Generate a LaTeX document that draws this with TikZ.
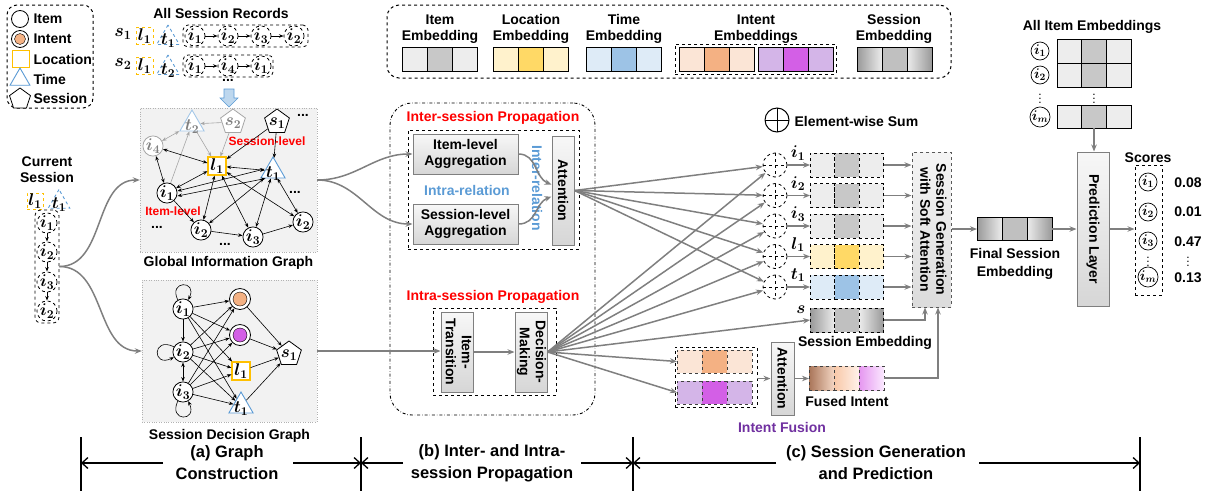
\RequirePackage{fix-cm}
\documentclass[tikz,border=0pt]{standalone}
\usepackage{fontspec}
\setmainfont{Liberation Sans}
\setsansfont{Liberation Sans}
\usetikzlibrary{shapes.geometric,arrows.meta,calc}
\definecolor{cgray}{HTML}{7F7F7F}
\definecolor{itL}{HTML}{EDEDED}
\definecolor{itM}{HTML}{C8C8C8}
\definecolor{loL}{HTML}{FFF2CC}
\definecolor{loM}{HTML}{FFD966}
\definecolor{tiL}{HTML}{DEEBF7}
\definecolor{tiM}{HTML}{9DC3E6}
\definecolor{inoL}{HTML}{FBE5D6}
\definecolor{inoM}{HTML}{F4B183}
\definecolor{inpL}{HTML}{D4B5E8}
\definecolor{inpM}{HTML}{D35FE6}
\definecolor{locB}{HTML}{FFC000}
\definecolor{timB}{HTML}{5B9BD5}
\definecolor{redT}{HTML}{FF0000}
\definecolor{bluT}{HTML}{5B9BD5}
\definecolor{purT}{HTML}{7030A0}
\definecolor{gfill}{HTML}{F2F2F2}
\definecolor{arrB}{HTML}{BDD7EE}
\definecolor{sesM}{HTML}{C0C0C0}
\definecolor{fiA1}{HTML}{A97559}
\definecolor{fiA2}{HTML}{F3D5C2}
\definecolor{fiB1}{HTML}{F8C8A8}
\definecolor{fiB2}{HTML}{FFF2EA}
\definecolor{fiC1}{HTML}{E596F0}
\definecolor{fiC2}{HTML}{FBE9FF}
\newcommand{\mt}[1]{\mbox{\boldmath$#1$}}
\newcommand{\rlines}[1]{\rotatebox{-90}{\begin{tabular}{@{}c@{}}#1\end{tabular}}}
\newcommand{\trio}[6]{%
  \node[ecell,#6,#3] (#1a) at #2 {};
  \node[ecell,#6,#4,anchor=west] (#1b) at (#1a.east) {};
  \node[ecell,#6,#5,anchor=west] (#1c) at (#1b.east) {};}
\begin{document}
\begin{tikzpicture}[x=1pt,y=-1pt,font=\bfseries\fontsize{14}{16}\selectfont]
\useasboundingbox (0,0) rectangle (1212,491);
\tikzset{
 ecell/.style={draw,inner sep=0pt,outer sep=0pt,minimum width=25pt,minimum height=24pt,line width=0.8pt},
 dc/.style={dashed},
 gdc/.style={dashed,draw=black!75},
 sesA/.style={left color=gray!80,right color=gray!15},
 sesC/.style={left color=gray!15,right color=gray!80},
 fiA/.style={left color=fiA1,right color=fiA2},
 fiB/.style={left color=fiB1,right color=fiB2},
 fiC/.style={left color=fiC1,right color=fiC2},
 garrow/.style={draw=cgray,line width=1.5pt,-{Stealth[length=7pt,width=5.5pt]}},
 karrow/.style={line width=0.6pt,-{Stealth[length=4.5pt,width=3.5pt]}},
 kboth/.style={line width=0.6pt,{Stealth[length=4.5pt,width=3.5pt]}-{Stealth[length=4.5pt,width=3.5pt]}},
 mfont/.style={font=\fontsize{17}{19}\selectfont},
 gn/.style={circle,draw,minimum size=20pt,inner sep=0pt,line width=0.8pt,fill=white,mfont},
 dn/.style={gn,dashed,minimum size=18pt},
 locn/.style={draw=locB,line width=1.2pt,minimum size=18pt,inner sep=0pt,fill=white,mfont},
 timn/.style={regular polygon,regular polygon sides=3,draw=timB,line width=0.9pt,minimum size=28pt,inner sep=0pt,fill=white,label={[yshift=-2.5pt,mfont]center:#1}},
 timn/.default={},
 sesn/.style={regular polygon,regular polygon sides=5,draw,line width=0.8pt,minimum size=26pt,inner sep=0pt,fill=white,label={[yshift=-1pt,mfont]center:#1}},
 sesn/.default={},
 gbox/.style={draw=cgray,line width=1pt,top color=gray!6,bottom color=gray!32,inner sep=0pt,align=center},
 sumc/.style={circle,draw,dashed,minimum size=24pt,inner sep=0pt,line width=0.8pt,
   path picture={\draw[dashed] (path picture bounding box.north) -- (path picture bounding box.south) (path picture bounding box.west) -- (path picture bounding box.east);}},
 cl/.style={circle,draw,inner sep=0pt,minimum size=18pt,line width=0.7pt,font=\fontsize{14}{16}\selectfont},
 vd/.style={inner sep=0pt,font=\fontsize{12}{12}\selectfont},
 redt/.style={text=redT},
 tl/.style={line width=1.3pt,-{Straight Barb[length=6pt,width=11pt,line width=1.3pt]}},
}
% ---------- left legend
\node[draw,dashed,rounded corners=10pt,line width=1pt,minimum width=86pt,minimum height=103pt,inner sep=0pt] (leg) at (50,56.5) {};
\node[circle,draw,minimum size=17pt,inner sep=0pt,line width=0.8pt] (lgi) at (20,19) {};
\node[anchor=west] (lgit) at (30,19) {Item};
\node[circle,draw,minimum size=17pt,inner sep=0pt,line width=0.8pt] (lgn) at (20,39) {};
\node[circle,draw,fill=inoM,minimum size=11pt,inner sep=0pt] (lgnc) at (lgn) {};
\node[anchor=west] (lgnt) at (30,39) {Intent};
\node[locn,minimum size=17pt] (lgl) at (21,59) {};
\node[anchor=west] (lglt) at (30,59) {Location};
\node[timn,minimum size=23pt] (lgt) at (20,79.5) {};
\node[anchor=west] (lgtt) at (30,79) {Time};
\node[sesn,minimum size=22pt] (lgs) at (20,99) {};
\node[anchor=west] (lgst) at (30,98) {Session};
% ---------- all session records
\node (asr) at (221,13) {All Session Records};
\node[font=\fontsize{18}{20}\selectfont] (rs1) at (123,34) {\mt{s_1}};
\node[locn,dashed,line width=0.9pt,minimum size=17pt] (rl1) at (144.5,36) {\mt{l_1}};
\node[timn={\mt{t_1}},dashed,minimum size=26pt] (rt1) at (168,38) {};
\node[draw,dashed,rounded corners=5pt,minimum width=125pt,minimum height=22pt,inner sep=0pt,line width=0.8pt] (rb1) at (245.5,36) {};
\node[dn] (r1a) at (195,36) {\mt{i_1}};
\node[dn] (r1b) at (228,36) {\mt{i_2}};
\node[dn] (r1c) at (261,36) {\mt{i_3}};
\node[dn] (r1d) at (294,36) {\mt{i_2}};
\draw[karrow] (r1a) -- (r1b); \draw[karrow] (r1b) -- (r1c); \draw[karrow] (r1c) -- (r1d);
\node[font=\fontsize{18}{20}\selectfont] (rs2) at (123,64) {\mt{s_2}};
\node[locn,dashed,line width=0.9pt,minimum size=17pt] (rl2) at (144.5,66) {\mt{l_1}};
\node[timn={\mt{t_2}},dashed,minimum size=26pt] (rt2) at (168,68) {};
\node[draw,dashed,rounded corners=5pt,minimum width=90pt,minimum height=22pt,inner sep=0pt,line width=0.8pt] (rb2) at (228,66) {};
\node[dn] (r2a) at (195,66) {\mt{i_1}};
\node[dn] (r2b) at (228,66) {\mt{i_4}};
\node[dn] (r2c) at (261,66) {\mt{i_1}};
\draw[karrow] (r2a) -- (r2b); \draw[karrow] (r2b) -- (r2c);
\node (rdots) at (228,80) {...};
\draw[draw=timB,fill=arrB,line width=0.6pt] (224,89) -- (234,89) -- (234,98) -- (238,98) -- (229,107) -- (220,98) -- (224,98) -- cycle;
% ---------- current session
\node[align=center] (cur) at (47,170) {Current\\Session};
\node[locn,dashed,line width=0.9pt,minimum size=16pt] (cl1) at (35,201) {\mt{l_1}};
\node[timn={\mt{t_1}},dashed,minimum size=25pt] (ct1) at (59,202) {};
\node[draw,dashed,rounded corners=6pt,minimum width=24pt,minimum height=113pt,inner sep=0pt,line width=0.8pt] (cbox) at (47,266.5) {};
\node[dn] (c1) at (47,223) {\mt{i_1}};
\node[dn] (c2) at (47,252) {\mt{i_2}};
\node[dn] (c3) at (47,282) {\mt{i_3}};
\node[dn] (c4) at (47,311) {\mt{i_2}};
\draw[karrow] (c1) -- (c2); \draw[karrow] (c2) -- (c3); \draw[karrow] (c3) -- (c4);
% ---------- global information graph
\node[draw=gray!60,dotted,fill=gfill,minimum width=177pt,minimum height=144pt,inner sep=0pt] (gig) at (228.5,180) {};
\node (gigl) at (228.5,263) {Global Information Graph};
\node[timn={\textcolor{gray}{\mt{t_2}}},draw=timB!55] (t2g) at (192,124) {};
\node[sesn={\textcolor{gray}{\mt{s_2}}},draw=gray!70] (s2g) at (233,122) {};
\node[sesn={\mt{s_1}}] (s1g) at (277,122) {};
\node (gd1) at (303,115) {...};
\node[redt,font=\bfseries\fontsize{12}{14}\selectfont] (slv) at (267,141) {Session-level};
\node[gn,draw=gray!70,text=gray] (i4g) at (153,146) {\mt{i_4}};
\node[locn] (l1g) at (217,166) {\mt{l_1}};
\node[timn={\mt{t_1}}] (t1g) at (273,171) {};
\node[gn] (i1g) at (167,193) {\mt{i_1}};
\node[redt,font=\bfseries\fontsize{12}{14}\selectfont] (ilv) at (173,211) {Item-level};
\node (gd2) at (295,192) {...};
\node (gd3) at (157,227) {...};
\node[gn] (i2g) at (201,230) {\mt{i_2}};
\node[gn] (i3g) at (253,237) {\mt{i_3}};
\node[gn] (i2bg) at (303,222) {\mt{i_2}};
\node (gd4) at (225,244) {...};
\draw[kboth,draw=gray!70] (i4g) -- (t2g);
\draw[karrow,draw=gray!70] (s2g) -- (t2g);
\draw[karrow,draw=gray!70] (i1g) -- (t2g);
\draw[karrow,draw=gray!70] (t2g) -- (l1g);
\draw[karrow,draw=gray!70] (s2g) -- (l1g);
\draw[karrow] (s1g) -- (l1g);
\draw[karrow] (s1g) -- (t1g);
\draw[kboth] (i4g) -- (l1g);
\draw[kboth] (i4g) -- (i1g);
\draw[kboth] (l1g) -- (t1g);
\draw[kboth] (i1g) -- (l1g);
\draw[kboth] ([yshift=2pt]i1g.east) -- ([yshift=2pt]t1g.west);
\draw[kboth] ([yshift=-3pt]i1g.east) -- (t1g.south west);
\draw[karrow] (i1g) -- (i2g);
\draw[karrow] (i2g) -- (i3g);
\draw[karrow] (i3g) -- (i2bg);
\draw[kboth] (l1g) -- (i2g);
\draw[kboth] (l1g) -- (i3g);
\draw[kboth] (l1g) -- (i2bg);
\draw[kboth] (t1g) -- (i2g);
\draw[kboth] (t1g) -- (i3g);
\draw[kboth] (t1g) -- (i2bg);
% ---------- session decision graph
\node[draw=gray!60,dotted,fill=gfill,minimum width=175pt,minimum height=142pt,inner sep=0pt] (sdg) at (229.5,351) {};
\node (sdgl) at (229.5,436) {Session Decision Graph};
\node[gn] (i1s) at (183,309) {\mt{i_1}};
\node[gn] (i2s) at (183,352) {\mt{i_2}};
\node[gn] (i3s) at (183,392) {\mt{i_3}};
\node[circle,draw,minimum size=21pt,inner sep=0pt,fill=white,line width=0.8pt] (n1s) at (240,299) {};
\node[circle,draw,fill=inoM,minimum size=14pt,inner sep=0pt] (n1c) at (n1s) {};
\node[circle,draw,minimum size=21pt,inner sep=0pt,fill=white,line width=0.8pt] (n2s) at (240,335) {};
\node[circle,draw,fill=inpM,minimum size=14pt,inner sep=0pt] (n2c) at (n2s) {};
\node[locn] (l1s) at (241,371) {\mt{l_1}};
\node[timn={\mt{t_1}}] (t1s) at (241,406) {};
\node[sesn={\mt{s_1}}] (s1s) at (289,354) {};
\foreach \a in {i1s,i2s,i3s}{\foreach \b in {n1s,n2s,l1s,t1s}{\draw[karrow] (\a) -- (\b);}}
\draw[karrow] (i1s) -- (i2s);
\draw[kboth] (i2s) -- (i3s);
\foreach \b in {n1s,n2s,l1s,t1s}{\draw[karrow] (\b) -- (s1s);}
\draw[karrow] (i1s.120) .. controls (168,280) and (198,280) .. (i1s.60);
\draw[karrow] (i2s.150) .. controls (152,336) and (152,368) .. (i2s.210);
\draw[karrow] (i3s.240) .. controls (168,422) and (198,422) .. (i3s.300);
% connectors from current session
\draw[garrow] (cbox.east) to[out=0,in=180] (gig.west);
\draw[garrow] (cbox.east) to[out=0,in=180] (sdg.west);
% ---------- middle propagation
\node[draw,dash dot,rounded corners=22pt,line width=0.9pt,minimum width=205pt,minimum height=312pt,inner sep=0pt] (mid) at (492.5,259) {};
\node[redt] (inter) at (493,118) {Inter-session Propagation};
\node[draw,dashed,line width=0.9pt,minimum width=171pt,minimum height=119pt,inner sep=0pt] (interb) at (493.5,189.5) {};
\node[gbox,minimum width=105pt,minimum height=40pt] (ila) at (465.5,154) {Item-level\\Aggregation};
\node[gbox,minimum width=105pt,minimum height=40pt] (sla) at (465.5,224) {Session-level\\Aggregation};
\node[text=bluT] (intrar) at (467,190) {Intra-relation};
\node[text=bluT] (interr) at (537,188) {\rotatebox{-90}{Inter-relation}};
\node[gbox,minimum width=22pt,minimum height=109pt] (att) at (563,190.5) {\rotatebox{-90}{Attention}};
\coordinate (attin1) at ($(att.west)+(0,-6)$);
\coordinate (attin2) at ($(att.west)+(0,6)$);
\draw[garrow] (ila.east) .. controls (537,154) and (535,178) .. (attin1);
\draw[garrow] (sla.east) .. controls (537,224) and (535,203) .. (attin2);
\node[redt] (intra) at (493,297) {Intra-session Propagation};
\node[draw,dashed,line width=0.9pt,minimum width=123pt,minimum height=87pt,inner sep=0pt] (intrab) at (494.5,351.5) {};
\node[gbox,minimum width=32pt,minimum height=80pt] (itr) at (457,352) {\rlines{Item-\\Transition}};
\node[gbox,minimum width=32pt,minimum height=80pt] (dm) at (531,352) {\rlines{Decision-\\Making}};
\draw[garrow] (itr.east) -- (dm.west);
\draw[garrow] (gig.east) to[out=0,in=180] (ila.west);
\draw[garrow] (gig.east) to[out=0,in=180] (sla.west);
\draw[garrow] (sdg.east) -- (sdg.east -| itr.west);
% ---------- top embedding legend
\node[draw,dashed,rounded corners=12pt,line width=1pt,minimum width=564pt,minimum height=73pt,inner sep=0pt] (emb) at (669,41.5) {};
\node[align=center] (tI) at (440,29) {Item\\Embedding};
\trio{eI}{(414.5,59)}{fill=itL}{fill=itM}{fill=itL}{}
\node[align=center] (tL) at (531,29) {Location\\Embedding};
\trio{eL}{(505.5,59)}{fill=loL}{fill=loM}{fill=loL}{}
\node[align=center] (tT) at (624,29) {Time\\Embedding};
\trio{eT}{(598.5,59)}{fill=tiL}{fill=tiM}{fill=tiL}{}
\node[align=center] (tN) at (756,29) {Intent\\Embeddings};
\node[draw,dashed,line width=0.9pt,minimum width=161pt,minimum height=30pt,inner sep=0pt] (eNb) at (755.5,59) {};
\trio{eO}{(691.5,59)}{fill=inoL}{fill=inoM}{fill=inoL}{}
\trio{eP}{(770.5,59)}{fill=inpL}{fill=inpM}{fill=inpL}{}
\node[align=center] (tS) at (894,29) {Session\\Embedding};
\trio{eS}{(869.5,59)}{sesA}{fill=sesM}{sesC}{}
% ---------- element-wise sums and bars
\node[circle,draw,minimum size=24pt,inner sep=0pt,line width=1pt,
  path picture={\draw[line width=1pt] (path picture bounding box.north) -- (path picture bounding box.south) (path picture bounding box.west) -- (path picture bounding box.east);}] (esum) at (777,120) {};
\node[anchor=west] (esumt) at (791,121) {Element-wise Sum};
\node[draw=gray!70!black,dashed,line width=1pt,top color=gray!8,bottom color=gray!28,minimum width=39pt,minimum height=155pt,inner sep=0pt] (sg) at (931.5,229.5) {\rlines{Session Generation\\with Soft Attention}};
\foreach \k/\yy/\lab in {1/165/i_1,2/195.5/i_2,3/226/i_3,4/256.5/l_1,5/287/t_1}{
  \node[sumc] (sum\k) at (775,\yy) {};
  \node[mfont] (lab\k) at (798,\yy-12) {\mt{\lab}};
}
\trio{b1}{(822.3,165)}{fill=itL}{fill=itM}{fill=itL}{dc,minimum width=24.5pt}
\trio{b2}{(822.3,195.5)}{fill=itL}{fill=itM}{fill=itL}{dc,minimum width=24.5pt}
\trio{b3}{(822.3,226)}{fill=itL}{fill=itM}{fill=itL}{dc,minimum width=24.5pt}
\trio{b4}{(822.3,256.5)}{fill=loL}{fill=loM}{fill=loL}{dc,minimum width=24.5pt}
\trio{b5}{(822.3,287)}{fill=tiL}{fill=tiM}{fill=tiL}{dc,minimum width=24.5pt}
\trio{bs}{(822.3,320)}{sesA}{fill=sesM}{sesC}{dc,minimum width=24.5pt}
\node[mfont] (slab) at (801,310) {\mt{s}};
\node (sel) at (865,343) {Session Embedding};
\foreach \k in {1,...,5}{
  \draw[garrow,line width=1.2pt] (sum\k) -- (b\k a.west);
  \draw[garrow,line width=1.2pt] (b\k c.east) -- (b\k c.east -| sg.west);
  \draw[garrow] (att.east) -- (sum\k);
  \draw[garrow] (dm.east) -- (sum\k);
}
\draw[garrow] (dm.east) -- (bsa.west);
% ---------- intent fusion
\trio{io}{(689.5,361.5)}{fill=inoL}{fill=inoM}{fill=inoL}{gdc,minimum height=23pt}
\trio{ip}{(689.5,392.5)}{fill=inpL}{fill=inpM}{fill=inpL}{gdc,minimum height=23pt}
\node[draw,dashed,line width=0.9pt,minimum width=82pt,minimum height=60pt,inner sep=0pt] (ifb) at (716,377) {};
\draw[garrow] (dm.east) -- (ioa.west);
\draw[garrow] (dm.east) -- (ipa.west);
\node[gbox,minimum width=23pt,minimum height=73pt] (att2) at (782.5,378.5) {\rotatebox{-90}{Attention}};
\trio{fi}{(821.5,378)}{fiA}{fiB}{fiC}{gdc}
\node (fil) at (847,401) {Fused Intent};
\node[text=purT] (ifl) at (782,427) {Intent Fusion};
\draw[garrow,line width=1.2pt] (ifb.east |- att2.west) -- (att2.west);
\draw[garrow,line width=1.2pt] (att2.east) -- (att2.east -| fia.west);
\coordinate (sgin1) at ($(sg.south)+(-6.5,0)$);
\coordinate (sgin2) at ($(sg.south)+(6.5,0)$);
\draw[garrow,line width=1.2pt] (bsc.east) -| (sgin1);
\draw[garrow,line width=1.2pt] (fic.east) -| (sgin2);
% ---------- final embedding and prediction
\trio{fs}{(989.5,229)}{sesA}{fill=sesM}{sesC}{minimum height=23pt}
\node[align=center,font=\bfseries\fontsize{14}{18}\selectfont] (fsl) at (1015,264) {Final Session\\Embedding};
\node[gbox,minimum width=32pt,minimum height=154pt] (pl) at (1093,229) {\rotatebox{-90}{Prediction Layer}};
\draw[garrow,line width=1.2pt] (sg.east |- fsa.west) -- (fsa.west);
\draw[garrow,line width=1.2pt] (fsc.east) -- (fsc.east -| pl.west);
\node (aie) at (1092,27) {All Item Embeddings};
\trio{m1}{(1069.3,51)}{fill=itL}{fill=itM}{fill=itL}{minimum width=24.7pt}
\trio{m2}{(1069.3,75)}{fill=itL}{fill=itM}{fill=itL}{minimum width=24.7pt}
\trio{mm}{(1069.3,116.5)}{fill=itL}{fill=itM}{fill=itL}{minimum width=24.7pt,minimum height=23pt}
\node[cl] (ml1) at (1040,51) {\mt{i_1}};
\node[cl] (ml2) at (1040,75) {\mt{i_2}};
\node[vd] (mvd1) at (1040,96) {$\vdots$};
\node[vd] (mvd2) at (1094,96) {$\vdots$};
\node[cl] (mlm) at (1040,117) {\mt{i_m}};
\draw[garrow,line width=1.2pt] (mmb.south) -- (mmb.south |- pl.north);
\node (scl) at (1148,158) {Scores};
\node[draw,dashed,line width=1pt,minimum width=27pt,minimum height=130pt,inner sep=0pt] (scb) at (1148.5,230) {};
\node[cl] (sc1) at (1148,182) {\mt{i_1}};
\node[cl] (sc2) at (1148,212) {\mt{i_2}};
\node[cl] (sc3) at (1148,241) {\mt{i_3}};
\node[vd] (scd) at (1148,259) {$\vdots$};
\node[cl] (scm) at (1148,277) {\mt{i_m}};
\node (v1) at (1188,183) {0.08};
\node (v2) at (1188,212) {0.01};
\node (v3) at (1188,242) {0.47};
\node[vd] (vdd) at (1188,259) {$\vdots$};
\node (vm) at (1188,278) {0.13};
\draw[garrow,line width=1.2pt] (pl.east) -- (pl.east -| scb.west);
% ---------- bottom timeline
\coordinate (v1t) at (81,437); \coordinate (v1b) at (81,491);
\coordinate (v2t) at (361,437); \coordinate (v2b) at (361,491);
\coordinate (v3t) at (633,437); \coordinate (v3b) at (633,491);
\coordinate (v4t) at (1140,437); \coordinate (v4b) at (1140,491);
\foreach \v in {1,2,3,4}{\draw[line width=1.3pt] (v\v t) -- (v\v b);}
\node[align=center,font=\bfseries\fontsize{16.5}{22}\selectfont] (lba) at (227,463) {(a) Graph\\Construction};
\node[align=center,font=\bfseries\fontsize{16.5}{22}\selectfont] (lbb) at (492,463) {(b) Inter- and Intra-\\session Propagation};
\node[align=center,font=\bfseries\fontsize{16.5}{22}\selectfont] (lbc) at (876,463) {(c) Session Generation\\and Prediction};
\coordinate (a1) at (163,463); \coordinate (a2) at (293,463);
\coordinate (b1) at (403,463); \coordinate (b2) at (581,463);
\coordinate (c1x) at (776,463); \coordinate (c2x) at (979,463);
\draw[tl] (a1) -- (v1t |- a1);
\draw[tl] (a2) -- (v2t |- a2);
\draw[tl] (b1) -- (v2t |- b1);
\draw[tl] (b2) -- (v3t |- b2);
\draw[tl] (c1x) -- (v3t |- c1x);
\draw[tl] (c2x) -- (v4t |- c2x);
\end{tikzpicture}
\end{document}
